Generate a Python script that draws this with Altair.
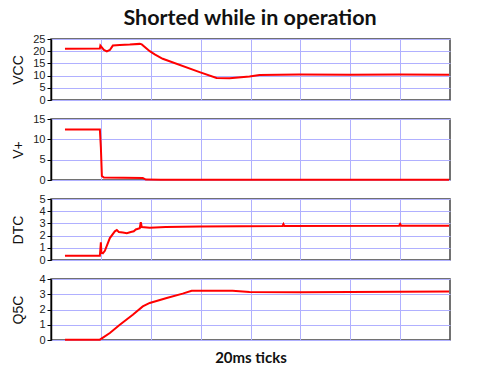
import altair as alt
import pandas as pd

# time in units of 20 ms ticks (0..8)
vcc_t = [0.28, 0.98, 0.99, 1.06, 1.12, 1.18, 1.24, 1.38, 1.58, 1.78, 1.82, 1.98, 2.08, 2.24, 2.98, 3.32, 3.58, 3.98, 4.18, 4.98, 5.98, 6.98, 7.98]
vcc_v = [21.0, 21.1, 22.3, 20.5, 19.9, 20.5, 22.3, 22.5, 22.7, 23.0, 22.8, 20.0, 18.7, 16.9, 11.4, 9.0, 8.9, 9.6, 10.2, 10.4, 10.3, 10.4, 10.3]

vp_t = [0.28, 0.98, 1.00, 1.02, 1.06, 1.84, 1.90, 2.20, 7.98]
vp_v = [12.4, 12.4, 8.0, 1.0, 0.6, 0.5, 0.1, 0.05, 0.05]

dtc_t = [0.28, 0.98, 1.00, 1.01, 1.04, 1.08, 1.18, 1.28, 1.32, 1.36, 1.44, 1.52, 1.60, 1.66, 1.70, 1.78, 1.80, 1.82, 1.98, 2.30, 2.98, 4.64, 4.66, 4.68, 6.98, 7.00, 7.02, 7.98]
dtc_v = [0.35, 0.35, 1.45, 0.6, 0.55, 0.75, 1.8, 2.35, 2.45, 2.3, 2.25, 2.2, 2.3, 2.35, 2.5, 2.6, 3.1, 2.7, 2.65, 2.7, 2.75, 2.78, 2.95, 2.78, 2.8, 2.95, 2.8, 2.8]

q5c_t = [0.28, 0.98, 1.18, 1.38, 1.64, 1.84, 1.98, 2.32, 2.64, 2.82, 3.64, 3.98, 5.0, 6.0, 7.0, 7.98]
q5c_v = [0.02, 0.02, 0.46, 1.0, 1.66, 2.2, 2.43, 2.75, 3.04, 3.23, 3.23, 3.14, 3.13, 3.15, 3.17, 3.18]

panels = [
    ("VCC", vcc_t, vcc_v, 25, [0, 5, 10, 15, 20, 25]),
    ("V+", vp_t, vp_v, 15, [0, 5, 10, 15]),
    ("DTC", dtc_t, dtc_v, 5, [0, 1, 2, 3, 4, 5]),
    ("Q5C", q5c_t, q5c_v, 4, [0, 1, 2, 3, 4]),
]
x_grid = [1, 2, 3, 4, 5, 6, 7]

charts = []
for i, (name, t, v, ymax, yticks) in enumerate(panels):
    df = pd.DataFrame({"t": t, "v": v})
    last = i == len(panels) - 1
    if last:
        xaxis = alt.Axis(
            values=x_grid, labels=False, ticks=False, domain=False, grid=True,
            title="20ms ticks", titleFont="Lato", titleFontSize=15, titleFontWeight="bold",
            titleColor="#111", titlePadding=10, minExtent=0, maxExtent=0,
        )
    else:
        xaxis = alt.Axis(values=x_grid, labels=False, ticks=False, domain=False, grid=True,
                         title=None, minExtent=0, maxExtent=0, labelPadding=0, tickSize=0)
    c = alt.Chart(df).mark_line(color="#ff0000", strokeWidth=2).encode(
        x=alt.X("t:Q", scale=alt.Scale(domain=[0, 8], nice=False, zero=False), axis=xaxis),
        y=alt.Y("v:Q", scale=alt.Scale(domain=[0, ymax], nice=False),
                axis=alt.Axis(values=yticks, title=name, grid=True, tickSize=4,
                              labelPadding=2, minExtent=20, maxExtent=20, titlePadding=6)),
    ).properties(width=399, height=61)
    charts.append(c)

chart = alt.vconcat(*charts, spacing=19, bounds="flush").properties(
    title=alt.TitleParams("Shorted while in operation", font="Lato", fontSize=21.5,
                          fontWeight="bold", color="#111", anchor="middle", offset=0, dy=-2.5, dx=18),
    padding={"left": 2, "top": 0, "right": 5, "bottom": 5},
).configure_view(stroke="#444", strokeWidth=1.5).configure_axis(
    labelFont="Liberation Sans", labelFontSize=11, labelColor="#222",
    titleFont="Liberation Sans", titleFontSize=14, titleFontWeight="normal", titleColor="#111",
    gridColor="#b0b0ff", gridWidth=1, gridOpacity=1,
    domainColor="#000", domainWidth=1.5, tickColor="#000", tickWidth=1,
)

chart.save("out.html", embed_options={"renderer": "svg", "actions": False})
